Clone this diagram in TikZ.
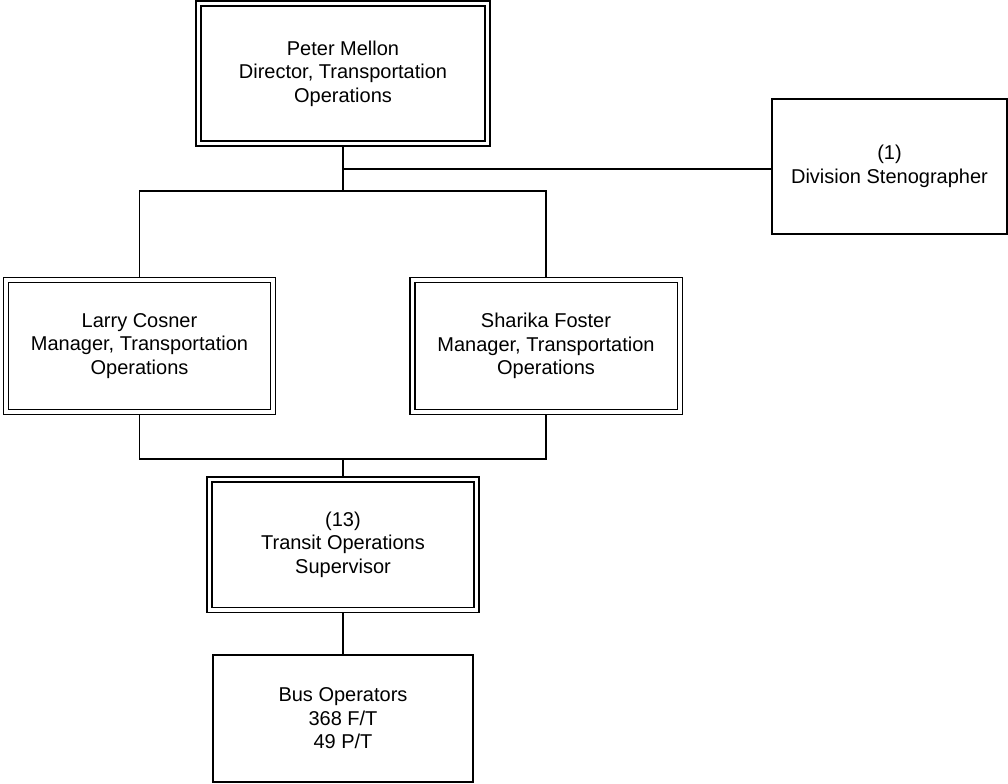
\documentclass[tikz,border=0pt]{standalone}
\usepackage{fontspec}
\setmainfont{Liberation Sans}
\tikzset{
    chartbox/.style={draw, rectangle, line width=1pt, align=center, inner sep=0pt, font=\fontsize{15}{17.6}\selectfont},
    headbox/.style={chartbox, double, double distance=2.75pt, outer sep=2.4pt},
    managerbox/.style={headbox, minimum width=200.5pt, minimum height=99pt},
    linkline/.style={line width=1pt},
}

\begin{document}
\begin{tikzpicture}[x=0.75pt, y=-0.75pt]
    \useasboundingbox (0,0) rectangle (1008,783);
    \node[headbox, minimum width=216.75pt, minimum height=105pt] (director) at (343,73.5) {Peter Mellon\\Director, Transportation\\Operations};
    \node[chartbox, minimum width=176.25pt, minimum height=101.25pt] (steno) at (889.5,166.5) {(1)\\Division Stenographer};
    \node[managerbox] (cosner) at (139.5,346) {Larry Cosner\\Manager, Transportation\\Operations};
    \node[managerbox] (foster) at (546,346) {Sharika Foster\\Manager, Transportation\\Operations};
    \node[headbox, minimum width=200.25pt, minimum height=97.9pt] (supervisor) at (343,544.75) {(13)\\Transit Operations\\Supervisor};
    \node[chartbox, minimum width=195pt, minimum height=95.25pt] (busops) at (343,718.5) {Bus Operators\\368 F/T\\49 P/T};
    \coordinate (stenotap) at (343,169);
    \coordinate (topfork) at (343,191);
    \coordinate (lowfork) at (343,459);
    \draw[linkline] (director) -- (topfork);
    \draw[linkline] (stenotap) -- (stenotap -| steno.west);
    \draw[linkline] (cosner) |- (topfork) -| (foster);
    \draw[linkline] (cosner) |- (lowfork) -| (foster);
    \draw[linkline] (lowfork) -- (supervisor);
    \draw[linkline] (supervisor) -- (busops);
\end{tikzpicture}
\end{document}
